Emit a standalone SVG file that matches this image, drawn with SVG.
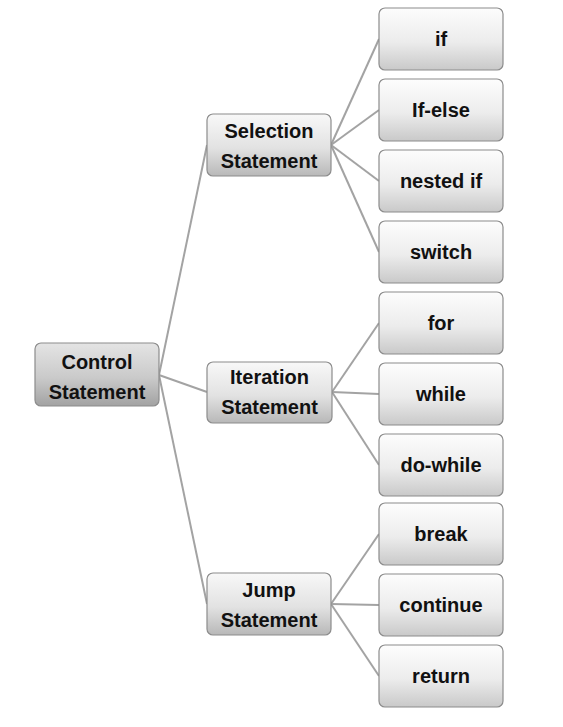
<svg xmlns="http://www.w3.org/2000/svg" width="563" height="727" viewBox="0 0 563 727">
<defs>
<linearGradient id="gLeaf" x1="0" y1="0" x2="0" y2="1">
<stop offset="0" stop-color="#fdfdfd"/>
<stop offset="0.55" stop-color="#ececec"/>
<stop offset="1" stop-color="#c9c9c9"/>
</linearGradient>
<linearGradient id="gMid" x1="0" y1="0" x2="0" y2="1">
<stop offset="0" stop-color="#f8f8f8"/>
<stop offset="0.55" stop-color="#e2e2e2"/>
<stop offset="1" stop-color="#b8b8b8"/>
</linearGradient>
<linearGradient id="gRoot" x1="0" y1="0" x2="0" y2="1">
<stop offset="0" stop-color="#e4e4e4"/>
<stop offset="0.55" stop-color="#cacaca"/>
<stop offset="1" stop-color="#a2a2a2"/>
</linearGradient>
</defs>
<style>
.box{stroke:#8c8c8c;stroke-width:1.2}
.leaf{fill:url(#gLeaf)}
.mid{fill:url(#gMid)}
.root{fill:url(#gRoot)}
.t{font-family:"Liberation Sans",Arial,sans-serif;font-weight:bold;font-size:20px;fill:#111;text-anchor:middle}
.c{stroke:#a3a3a3;stroke-width:2;fill:none}
</style>
<rect width="563" height="727" fill="#ffffff"/>
<g id="connectors">
<line class="c" x1="159" y1="375" x2="207" y2="145"/>
<line class="c" x1="159" y1="375" x2="207" y2="392"/>
<line class="c" x1="159" y1="375" x2="207" y2="604"/>
<line class="c" x1="331" y1="145" x2="379" y2="39"/>
<line class="c" x1="331" y1="145" x2="379" y2="110"/>
<line class="c" x1="331" y1="145" x2="379" y2="181"/>
<line class="c" x1="331" y1="145" x2="379" y2="252"/>
<line class="c" x1="332" y1="392" x2="379" y2="323"/>
<line class="c" x1="332" y1="392" x2="379" y2="394"/>
<line class="c" x1="332" y1="392" x2="379" y2="465"/>
<line class="c" x1="331" y1="604" x2="379" y2="534"/>
<line class="c" x1="331" y1="604" x2="379" y2="605"/>
<line class="c" x1="331" y1="604" x2="379" y2="676"/>
</g>
<g id="control">
<rect class="box root" x="35" y="343" width="124" height="63" rx="6"/>
<text class="t" x="97" y="369">Control</text>
<text class="t" x="97" y="399">Statement</text>
</g>
<g id="selection">
<rect class="box mid" x="207" y="114" width="124" height="62" rx="6"/>
<text class="t" x="269" y="138">Selection</text>
<text class="t" x="269" y="168">Statement</text>
</g>
<g id="iteration">
<rect class="box mid" x="207" y="362" width="125" height="61" rx="6"/>
<text class="t" x="269.5" y="384">Iteration</text>
<text class="t" x="269.5" y="414">Statement</text>
</g>
<g id="jump">
<rect class="box mid" x="207" y="573" width="124" height="62" rx="6"/>
<text class="t" x="269" y="597">Jump</text>
<text class="t" x="269" y="627">Statement</text>
</g>
<g id="if">
<rect class="box leaf" x="379" y="8" width="124" height="62" rx="6"/>
<text class="t" x="441" y="46">if</text>
</g>
<g id="ifelse">
<rect class="box leaf" x="379" y="79" width="124" height="62" rx="6"/>
<text class="t" x="441" y="117">If-else</text>
</g>
<g id="nestedif">
<rect class="box leaf" x="379" y="150" width="124" height="62" rx="6"/>
<text class="t" x="441" y="188">nested if</text>
</g>
<g id="switch">
<rect class="box leaf" x="379" y="221" width="124" height="62" rx="6"/>
<text class="t" x="441" y="259">switch</text>
</g>
<g id="for">
<rect class="box leaf" x="379" y="292" width="124" height="62" rx="6"/>
<text class="t" x="441" y="330">for</text>
</g>
<g id="while">
<rect class="box leaf" x="379" y="363" width="124" height="62" rx="6"/>
<text class="t" x="441" y="401">while</text>
</g>
<g id="dowhile">
<rect class="box leaf" x="379" y="434" width="124" height="62" rx="6"/>
<text class="t" x="441" y="472">do-while</text>
</g>
<g id="break">
<rect class="box leaf" x="379" y="503" width="124" height="62" rx="6"/>
<text class="t" x="441" y="541">break</text>
</g>
<g id="continue">
<rect class="box leaf" x="379" y="574" width="124" height="62" rx="6"/>
<text class="t" x="441" y="612">continue</text>
</g>
<g id="return">
<rect class="box leaf" x="379" y="645" width="124" height="62" rx="6"/>
<text class="t" x="441" y="683">return</text>
</g>
</svg>
